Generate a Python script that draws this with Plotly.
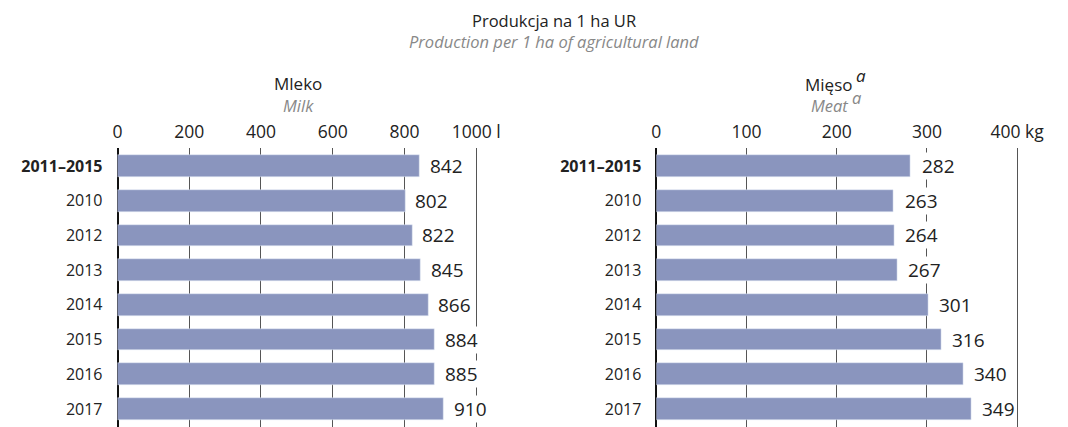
import plotly.graph_objects as go

categories = ["2011–2015", "2010", "2012", "2013", "2014", "2015", "2016", "2017"]
milk = [842, 802, 822, 845, 866, 884, 885, 910]
meat = [282, 263, 264, 267, 301, 316, 340, 349]

milk_ticks = [0, 200, 400, 600, 800, 1000]
milk_ticktext = ["0", "200", "400", "600", "800", "1000 l"]
meat_ticks = [0, 100, 200, 300, 400]
meat_ticktext = ["0", "100", "200", "300", "400 kg"]

cat_labels = ["<b>" + categories[0] + "</b>"] + categories[1:]
cat_pos = list(range(len(categories)))

W, H = 1068, 427
BAR = "#8A95BE"
FONT = "Open Sans, Noto Sans, sans-serif"

fig = go.Figure()
fig.add_trace(go.Bar(x=milk, y=cat_pos, orientation="h", marker_color=BAR,
                     width=0.63, xaxis="x", yaxis="y", showlegend=False,
                     hovertext=categories, hoverinfo="x+text"))
fig.add_trace(go.Bar(x=meat, y=cat_pos, orientation="h", marker_color=BAR,
                     width=0.63, xaxis="x2", yaxis="y2", showlegend=False,
                     hovertext=categories, hoverinfo="x+text"))

annotations = []
for i, v in enumerate(milk):
    annotations.append(dict(x=v, y=i, xref="x", yref="y", text=str(v), showarrow=False,
                            xanchor="left", yanchor="middle", xshift=9, bgcolor="white",
                            borderpad=0,
                            font=dict(size=19, color="#222", family=FONT)))
for i, v in enumerate(meat):
    annotations.append(dict(x=v, y=i, xref="x2", yref="y2", text=str(v), showarrow=False,
                            xanchor="left", yanchor="middle", xshift=10, bgcolor="white",
                            borderpad=0,
                            font=dict(size=19, color="#222", family=FONT)))

def px_x(p):
    return p / W

def px_y(p):
    return 1 - p / H

def title(x, y, text, size, color, anchor="center"):
    return dict(x=px_x(x), y=px_y(y), xref="paper", yref="paper", text=text,
                showarrow=False, xanchor=anchor, yanchor="middle",
                font=dict(size=size, color=color, family=FONT))

annotations += [
    title(556, 20, "Produkcja na 1 ha UR", 16.5, "#222"),
    title(556, 41, "<i>Production per 1 ha of agricultural land</i>", 16.5, "#888"),
    title(297, 83, "Mleko", 17, "#222"),
    title(297, 105, "<i>Milk</i>", 16.5, "#888"),
    title(860, 84, "Mięso", 17, "#222", "right"),
    title(860, 76, "<i>a</i>", 17, "#222", "left"),
    title(856, 105, "<i>Meat</i>", 16.5, "#888", "right"),
    title(856, 97, "<i>a</i>", 16.5, "#888", "left"),
]

top = px_y(148)
yrange = [7.52, -0.52]

xcommon = dict(side="top", showgrid=True, gridcolor="#555", gridwidth=1,
               zeroline=True, zerolinecolor="#111", zerolinewidth=1.5,
               showline=False, ticks="", ticklabelstandoff=6,
               tickfont=dict(size=17.5, color="#222", family=FONT), fixedrange=True)
ycommon = dict(range=yrange, tickvals=cat_pos, ticktext=cat_labels,
               showgrid=False, zeroline=False,
               showline=False, ticks="", ticklabelstandoff=14,
               tickfont=dict(size=16, color="#222", family=FONT), fixedrange=True)

k_milk = 363.5 / 1000
k_meat = 91.4 / 100

fig.update_layout(
    width=W, height=H,
    margin=dict(l=0, r=0, t=0, b=0),
    paper_bgcolor="white", plot_bgcolor="white",
    font=dict(family=FONT),
    bargap=0,
    xaxis=dict(domain=[px_x(114), px_x(114 + k_milk * 1050)], range=[0, 1050],
               tickvals=milk_ticks, ticktext=milk_ticktext, anchor="y", **xcommon),
    yaxis=dict(domain=[0, top], anchor="x", **ycommon),
    xaxis2=dict(domain=[px_x(660), px_x(660 + k_meat * 420)], range=[0, 420],
                tickvals=meat_ticks, ticktext=meat_ticktext, anchor="y2", **xcommon),
    yaxis2=dict(domain=[0, top], anchor="x2", **ycommon),
    annotations=annotations,
)

fig.write_html("out.html", config={"displayModeBar": False},
               post_script="document.body.style.margin='0';document.body.style.overflow='hidden';")
